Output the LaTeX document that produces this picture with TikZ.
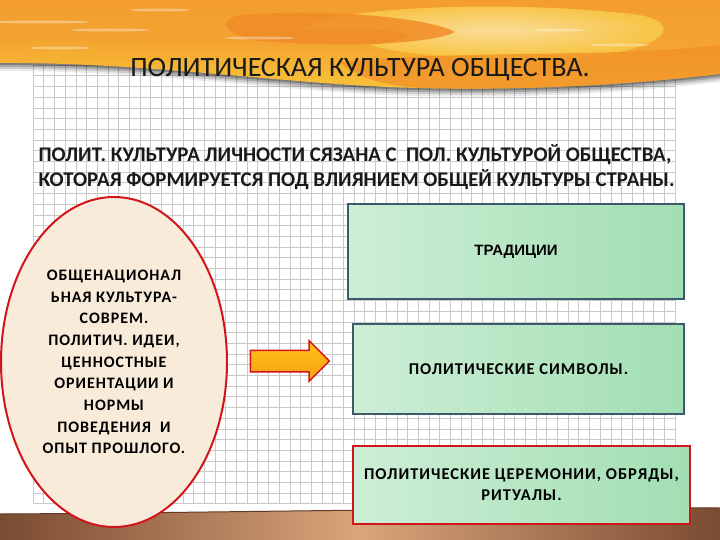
\documentclass[tikz,border=0pt]{standalone}
\usepackage{fontspec}
\setmainfont{Carlito}
\newfontfamily\arialfont{Liberation Sans}
\newfontfamily\spacedfont{Carlito}[LetterSpace=6]
\usetikzlibrary{shapes.geometric,shapes.arrows}
\definecolor{gridc}{HTML}{C9C9C9}
\definecolor{orangeA}{HTML}{F08C26}
\definecolor{orangeB}{HTML}{F4A332}
\definecolor{yellowA}{HTML}{F8C43A}
\definecolor{creamA}{HTML}{FBE3A2}
\definecolor{brownD}{HTML}{7A4A32}
\definecolor{brownL}{HTML}{D9A57A}
\definecolor{beige}{HTML}{F8EBD9}
\definecolor{redB}{HTML}{D2141B}
\definecolor{slateB}{HTML}{3C5A6C}
\definecolor{greenL}{HTML}{CDEED6}
\definecolor{greenR}{HTML}{A2DEB3}
\definecolor{arrowY}{HTML}{FFC21A}
\definecolor{arrowO}{HTML}{F7A20E}
\tikzset{
  gridline/.style={draw=gridc, line width=0.5pt},
  greenbox/.style={draw=slateB, line width=2pt, left color=greenL, right color=greenR, inner sep=0pt},
  redbox/.style={draw=redB, line width=2pt, left color=greenL, right color=greenR, inner sep=0pt},
  boxtext/.style={font=\spacedfont\bfseries\fontsize{16.5}{21}\selectfont, text=black, align=center}
}
\begin{document}
\begin{tikzpicture}[x=1pt,y=-1pt]
\useasboundingbox (0,0) rectangle (720,540);
\fill[white] (0,0) rectangle (720,540);
% grid
\foreach \i in {0,...,60} \draw[gridline] ({33+10.7*\i},65) -- ({33+10.7*\i},504);
\foreach \j in {0,...,41} \draw[gridline] (33,{65+10.7*\j}) -- (675,{65+10.7*\j});
% banner shadow
\foreach \d/\o in {8/0.08,6/0.12,4/0.18,2/0.25}
  \fill[black, opacity=\o] (0,40) -- (0,{63+\d}) .. controls (150,{62+\d}) and (300,{86+\d}) .. (420,{88+\d}) .. controls (550,{91+\d}) and (650,{82+\d}) .. (720,{74+\d}) -- (720,40) -- cycle;
% banner
\shade[top color=orangeA, bottom color=yellowA] (0,0) -- (720,0) -- (720,74) .. controls (650,82) and (550,91) .. (420,88) .. controls (300,86) and (150,62) .. (0,63) -- cycle;
\fill[orangeB, opacity=0.8] (0,0) -- (720,0) -- (720,55) .. controls (600,50) and (450,40) .. (300,45) .. controls (200,48) and (100,40) .. (0,35) -- cycle;
\shade[inner color=creamA, outer color=yellowA, opacity=0.9] (300,30) .. controls (330,5) and (520,0) .. (640,15) .. controls (690,25) and (660,55) .. (560,58) .. controls (480,60) and (400,55) .. (370,45) .. controls (420,40) and (440,25) .. (300,30) -- cycle;
\fill[orangeA, opacity=0.85] (240,15) .. controls (330,8) and (430,18) .. (455,32) .. controls (430,45) and (330,48) .. (250,40) .. controls (220,30) and (220,20) .. (240,15) -- cycle;
\fill[orangeA, opacity=0.7] (340,62) .. controls (450,50) and (620,58) .. (720,45) -- (720,74) .. controls (650,82) and (550,91) .. (420,88) .. controls (390,86) and (360,80) .. (340,62) -- cycle;
\foreach \x/\y/\w in {40/22/50,110/30/40,160/10/30,260/38/35,560/30/25,620/45/30,60/48/30}
  \fill[white, opacity=0.35] (\x,\y) ellipse ({\w} and 1.5);
\node[font=\fontsize{28}{32}\selectfont, text=black!90] (title) at (360,70) {ПОЛИТИЧЕСКАЯ КУЛЬТУРА ОБЩЕСТВА.};
% bottom strip
\shade[left color=brownD, right color=brownD, middle color=brownL] (0,514) .. controls (200,513) and (500,507) .. (720,508) -- (720,540) -- (0,540) -- cycle;
\draw[brownD!80!black, line width=1pt] (0,514) .. controls (200,513) and (500,507) .. (720,508);
% subtitle
\node[font=\bfseries\fontsize{20.8}{25}\selectfont, text=black!90, align=left, anchor=west] (sub) at (35,167) {ПОЛИТ. КУЛЬТУРА ЛИЧНОСТИ СЯЗАНА С \ ПОЛ. КУЛЬТУРОЙ ОБЩЕСТВА,\\КОТОРАЯ ФОРМИРУЕТСЯ ПОД ВЛИЯНИЕМ ОБЩЕЙ КУЛЬТУРЫ СТРАНЫ.};
% oval
\node[ellipse, draw=redB, line width=2pt, fill=beige, minimum width=226pt, minimum height=330pt, inner sep=0pt,
  font=\spacedfont\bfseries\fontsize{16}{21.7}\selectfont, text=black, align=center] (oval) at (114,362)
  {ОБЩЕНАЦИОНАЛ\\ЬНАЯ КУЛЬТУРА-\\СОВРЕМ.\\ПОЛИТИЧ. ИДЕИ,\\ЦЕННОСТНЫЕ\\ОРИЕНТАЦИИ И\\НОРМЫ\\ПОВЕДЕНИЯ \ И\\ОПЫТ ПРОШЛОГО.};
% arrow
\node[single arrow, draw=redB, line width=1.5pt, top color=arrowY, bottom color=arrowO, minimum height=79pt,
  single arrow head extend=9.5pt, inner xsep=0pt, inner ysep=10pt] (arrow) at (284.5,361) {};
% boxes
\node[greenbox, minimum width=336pt, minimum height=95pt] (b1) at (516,251.5) {};
\node[font=\arialfont\bfseries\fontsize{15}{18}\selectfont, text=black] (t1) at (b1) {ТРАДИЦИИ};
\node[greenbox, minimum width=331pt, minimum height=90pt, boxtext] (b2) at (518.5,369) {ПОЛИТИЧЕСКИЕ СИМВОЛЫ.};
\node[redbox, minimum width=337pt, minimum height=78pt, boxtext] (b3) at (521.5,485) {ПОЛИТИЧЕСКИЕ ЦЕРЕМОНИИ, ОБРЯДЫ,\\РИТУАЛЫ.};
\end{tikzpicture}
\end{document}
